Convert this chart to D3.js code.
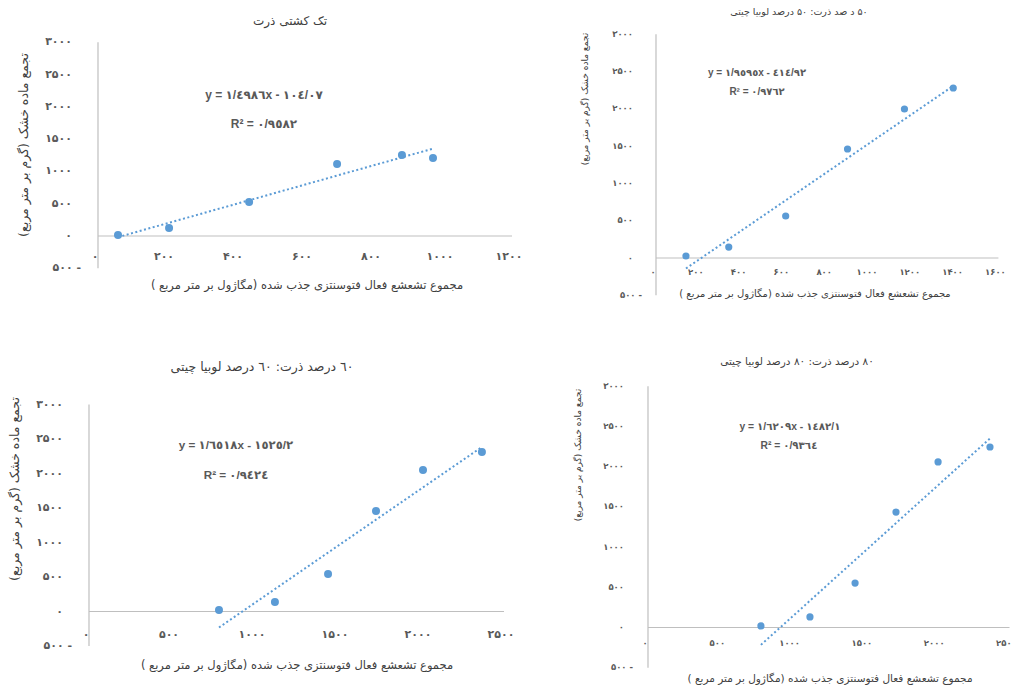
<!DOCTYPE html>
<html><head><meta charset="utf-8">
<script src="https://cdn.jsdelivr.net/npm/d3@7"></script>
<style>
html,body{margin:0;padding:0;background:#fff;}
svg{display:block;}
</style></head>
<body>
<svg id="chart" width="1012" height="687"></svg>
<script>
// ---------------- DATA ----------------
const titles = [
  "تک کشتی ذرت",
  "۵۰ د صد ذرت: ۵۰ درصد لوبیا چیتی",
  "٦۰ درصد ذرت: ٦۰ درصد لوبیا چیتی",
  "۸۰ درصد ذرت: ۸۰ درصد لوبیا چیتی"
];
const yAxisTitle = "تجمع ماده خشک (گرم بر متر مربع)";
const xAxisTitle = "مجموع تشعشع فعال فتوسنتزی جذب شده (مگاژول بر متر مربع )";
const yTicks = [-500, 0, 500, 1000, 1500, 2000, 2500, 3000];
const xTicks1 = [0, 200, 400, 600, 800, 1000, 1200];
const xTicks2 = [0, 200, 400, 600, 800, 1000, 1200, 1400, 1600];
const xTicks3 = [0, 500, 1000, 1500, 2000, 2500];
const xTicks4 = [0, 500, 1000, 1500, 2000, 2500];

const x1 = [58, 206, 438, 693, 881, 971];
const y1 = [15, 124, 526, 1115, 1254, 1207];
const x2 = [140, 340, 606, 895, 1161, 1389];
const y2 = [27, 147, 563, 1461, 1997, 2279];
const x3 = [783, 1120, 1440, 1729, 2012, 2367];
const y3 = [22, 138, 543, 1457, 2051, 2312];
const x4 = [781, 1120, 1432, 1715, 2006, 2365];
const y4 = [19, 131, 553, 1436, 2059, 2245];

const slopes = [1.49986, 1.9595, 1.6518, 1.6209];
const intercepts = [-104.07, -414.92, -1525.2, -1482.1];
const eqLabels = [
  "y = ۱/٤۹۸٦x - ۱۰٤/۰۷",
  "y = ۱/۹٥۹٥x - ٤۱٤/۹۲",
  "y = ۱/٦٥۱۸x - ۱٥۲٥/۲",
  "y = ۱/٦۲۰۹x - ۱٤۸۲/۱"
];
const r2Labels = ["۰/۹٥۸۲", "۰/۹۷٦۲", "۰/۹٤۲٤", "۰/۹۳٦٤"];

// ---------------- LAYOUT ----------------
const layouts = [
  {xs:[98,512], xmax:1200, ys:[268.3,42.2], fs:11, tfs:12, titleXY:[290,21],
   yLabR:72, xLabDy:21, yTitle:[24,145], xTitle:[307,285], eq:[264,96], r2:[264,125],
   efs:12, yfs:12.5, xfs:11.5},
  {xs:[656,998.4], xmax:1600, ys:[295.3,34.2], fs:8.5, tfs:9.5, titleXY:[799,12],
   yLabR:633, xLabDy:14, yTitle:[585,99], xTitle:[815,294], eq:[757,73], r2:[757,92],
   efs:10, yfs:9, xfs:10},
  {xs:[89,504], xmax:2500, ys:[646,404.5], fs:11, tfs:12.5, titleXY:[262,367],
   yLabR:63, xLabDy:23.5, yTitle:[15,489], xTitle:[297,665], eq:[236,446], r2:[236,476],
   efs:11.7, yfs:12.5, xfs:11.5},
  {xs:[648,1009.5], xmax:2500, ys:[667.7,386.3], fs:8.5, tfs:10.5, titleXY:[797,362],
   yLabR:624, xLabDy:15.5, yTitle:[578,455], xTitle:[830,679], eq:[790,427], r2:[789,446],
   efs:10.3, yfs:9, xfs:10.5}
];

const xs = [x1, x2, x3, x4];
const ysd = [y1, y2, y3, y4];
const xTicksAll = [xTicks1, xTicks2, xTicks3, xTicks4];

const faDigits = "۰۱۲۳۴۵۶۷۸۹";
function toFa(n){ return String(Math.abs(n)).replace(/\d/g, d => faDigits[+d]); }

const svg = d3.select("#chart");
const blue = "#5B9BD5";
const axisCol = "#BFBFBF";
const txtCol = "#595959";
const fontFa = "'DejaVu Sans', sans-serif";
const fontLat = "'Liberation Sans', 'DejaVu Sans', sans-serif";

layouts.forEach((L, i) => {
  const g = svg.append("g");
  const x = d3.scaleLinear().domain([0, L.xmax]).range(L.xs);
  const y = d3.scaleLinear().domain([-500, 3000]).range(L.ys);

  // title
  g.append("text").attr("x", L.titleXY[0]).attr("y", L.titleXY[1])
    .attr("text-anchor", "middle").attr("dominant-baseline", "middle")
    .attr("direction", "rtl")
    .style("font-family", fontFa).style("font-size", L.tfs + "px")
    .attr("fill", "#404040").text(titles[i]);

  // axes lines
  g.append("line").attr("x1", x(0)).attr("x2", x(0))
    .attr("y1", y(3000)).attr("y2", y(-500))
    .attr("stroke", axisCol).attr("stroke-width", 1.2);
  g.append("line").attr("x1", x(0)).attr("x2", x(L.xmax))
    .attr("y1", y(0)).attr("y2", y(0))
    .attr("stroke", axisCol).attr("stroke-width", 1.2);

  // y tick labels
  g.selectAll("text.yt").data(yTicks).enter().append("text")
    .attr("class", "yt")
    .attr("x", d => d < 0 ? L.yLabR + 9 : L.yLabR)
    .attr("y", d => y(d))
    .attr("text-anchor", "end").attr("dominant-baseline", "middle")
    .attr("direction", "ltr").attr("unicode-bidi", "bidi-override")
    .style("font-family", fontFa).style("font-size", L.fs + "px")
    .style("font-weight", "bold")
    .attr("fill", txtCol)
    .text(d => d < 0 ? toFa(d) + " -" : toFa(d));

  // x tick labels
  g.selectAll("text.xt").data(xTicksAll[i]).enter().append("text")
    .attr("class", "xt")
    .attr("x", d => x(d) - 3)
    .attr("y", y(0) + L.xLabDy)
    .attr("text-anchor", "middle").attr("dominant-baseline", "middle")
    .attr("direction", "ltr").attr("unicode-bidi", "bidi-override")
    .style("font-family", fontFa).style("font-size", L.fs + "px")
    .style("font-weight", "bold")
    .attr("fill", txtCol)
    .text(d => toFa(d));

  // axis titles
  g.append("text")
    .attr("transform", `translate(${L.yTitle[0]},${L.yTitle[1]}) rotate(-90)`)
    .attr("text-anchor", "middle").attr("dominant-baseline", "middle")
    .attr("direction", "rtl")
    .style("font-family", fontFa).style("font-size", L.yfs + "px")
    .attr("fill", "#404040").text(yAxisTitle);
  g.append("text").attr("x", L.xTitle[0]).attr("y", L.xTitle[1])
    .attr("text-anchor", "middle").attr("dominant-baseline", "middle")
    .attr("direction", "rtl")
    .style("font-family", fontFa).style("font-size", L.xfs + "px")
    .attr("fill", "#404040").text(xAxisTitle);

  // trendline
  const xd = xs[i];
  const xmin = d3.min(xd), xmaxD = d3.max(xd);
  const trend = [xmin, xmaxD].map(v => [v, slopes[i] * v + intercepts[i]]);
  g.append("path")
    .attr("d", d3.line().x(d => x(d[0])).y(d => y(d[1]))(trend))
    .attr("stroke", blue).attr("stroke-width", 2)
    .attr("stroke-dasharray", "2,2.5").attr("fill", "none");

  // points
  g.selectAll("circle").data(xd.map((v, k) => [v, ysd[i][k]])).enter()
    .append("circle")
    .attr("cx", d => x(d[0])).attr("cy", d => y(d[1]))
    .attr("r", L.fs > 10 ? 4 : 3.6)
    .attr("fill", blue);

  // equation
  g.append("text").attr("x", L.eq[0]).attr("y", L.eq[1])
    .attr("text-anchor", "middle").attr("dominant-baseline", "middle")
    .attr("direction", "ltr").attr("unicode-bidi", "bidi-override")
    .style("font-family", fontLat).style("font-size", L.efs + "px")
    .style("font-weight", "bold")
    .attr("fill", txtCol).text(eqLabels[i]);
  g.append("text").attr("x", L.r2[0]).attr("y", L.r2[1])
    .attr("text-anchor", "middle").attr("dominant-baseline", "middle")
    .attr("direction", "ltr").attr("unicode-bidi", "bidi-override")
    .style("font-family", fontLat).style("font-size", L.efs + "px")
    .style("font-weight", "bold")
    .attr("fill", txtCol).text("R² = " + r2Labels[i]);
});
</script>
</body></html>
